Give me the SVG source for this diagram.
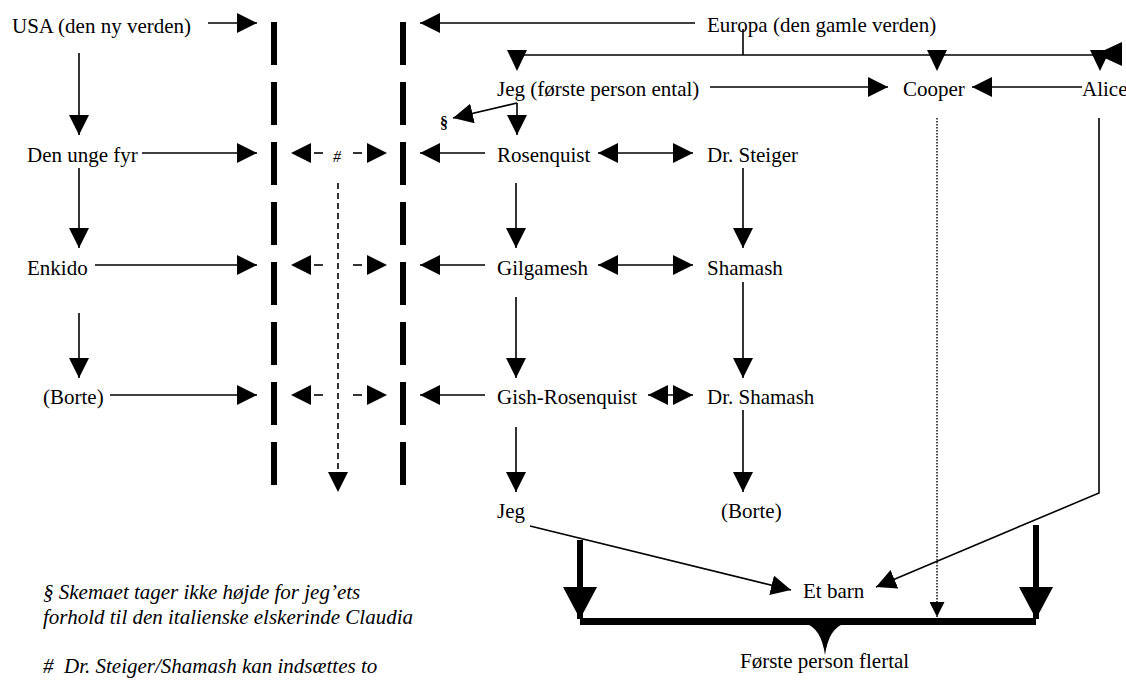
<svg xmlns="http://www.w3.org/2000/svg" width="1126" height="685" viewBox="0 0 1126 685">
<style>
  text { font-family: "Liberation Serif", "Times New Roman", serif; font-size: 21px; fill: #000; }
  .note { font-style: italic; }
  .ln { stroke: #000; stroke-width: 1.6; fill: none; }
  .arr { marker-end: url(#ah); }
  .dbl { marker-start: url(#ah); marker-end: url(#ah); }
  .wall { stroke: #000; stroke-width: 6; stroke-dasharray: 43 17; fill: none; }
  .dash { stroke: #000; stroke-width: 1.6; stroke-dasharray: 6 4; fill: none; }
  .stub { stroke: #000; stroke-width: 1.6; stroke-dasharray: 9 60; fill: none; marker-end: url(#ah); }
  .dot { stroke: #000; stroke-width: 1.4; stroke-dasharray: 1.5 1.5; fill: none; marker-end: url(#ahs); }
  .thick { stroke: #000; stroke-width: 6; fill: none; marker-end: url(#big); }
  .head { fill: #000; stroke: none; }
</style>
<defs>
  <marker id="ah" markerUnits="userSpaceOnUse" markerWidth="20" markerHeight="20" refX="20" refY="10" orient="auto-start-reverse">
    <path d="M0,0 L20,10 L0,20 Z" fill="#000"/>
  </marker>
  <marker id="ahs" markerUnits="userSpaceOnUse" markerWidth="15" markerHeight="15" refX="15" refY="7.5" orient="auto">
    <path d="M0,0 L15,7.5 L0,15 Z" fill="#000"/>
  </marker>
  <marker id="big" markerUnits="userSpaceOnUse" markerWidth="32" markerHeight="34" refX="32" refY="17" orient="auto">
    <path d="M0,0 L32,17 L0,34 Z" fill="#000"/>
  </marker>
</defs>

<g id="connectors">
  <line class="wall" x1="274" y1="22" x2="274" y2="485"/>
  <line class="wall" x1="403" y1="22" x2="403" y2="485"/>

  <line class="ln arr" x1="208" y1="23" x2="257" y2="23"/>
  <line class="ln arr" x1="695" y1="23" x2="420" y2="23"/>
  <line class="ln" x1="743" y1="29" x2="743" y2="55"/>
  <line class="ln" x1="517" y1="55" x2="1100" y2="55"/>
  <path class="head" d="M507,50 L527,50 L517,71 Z"/>
  <path class="head" d="M927,50 L947,50 L937,71 Z"/>
  <path class="head" d="M1090,50 L1110,50 L1100,71 Z"/>
  <path class="head" d="M1096,54 L1122,42 L1122,66 Z"/>

  <line class="ln arr" x1="710" y1="87" x2="888" y2="87"/>
  <line class="ln arr" x1="1082" y1="87" x2="972" y2="87"/>
  <line class="ln arr" x1="517" y1="103" x2="517" y2="135"/>
  <line class="ln arr" x1="517" y1="103" x2="453" y2="118"/>

  <line class="ln arr" x1="79" y1="53" x2="79" y2="135"/>
  <line class="ln arr" x1="79" y1="168" x2="79" y2="248"/>
  <line class="ln arr" x1="79" y1="313" x2="79" y2="378"/>

  <line class="ln arr" x1="142" y1="153" x2="257" y2="153"/>
  <line class="ln arr" x1="95" y1="265" x2="257" y2="265"/>
  <line class="ln arr" x1="110" y1="395" x2="257" y2="395"/>

  <line class="stub" x1="323" y1="153" x2="291" y2="153"/>
  <line class="stub" x1="353" y1="153" x2="387" y2="153"/>
  <line class="stub" x1="323" y1="265" x2="291" y2="265"/>
  <line class="stub" x1="353" y1="265" x2="387" y2="265"/>
  <line class="stub" x1="323" y1="395" x2="291" y2="395"/>
  <line class="stub" x1="353" y1="395" x2="387" y2="395"/>
  <line class="dash" x1="338" y1="183" x2="338" y2="474"/>
  <path class="head" d="M328,472 L348,472 L338,492 Z"/>

  <line class="ln arr" x1="485" y1="153" x2="420" y2="153"/>
  <line class="ln arr" x1="485" y1="265" x2="420" y2="265"/>
  <line class="ln arr" x1="485" y1="395" x2="420" y2="395"/>

  <line class="ln dbl" x1="598" y1="153" x2="693" y2="153"/>
  <line class="ln dbl" x1="598" y1="265" x2="693" y2="265"/>
  <line class="ln dbl" x1="648" y1="395" x2="693" y2="395"/>

  <line class="ln arr" x1="516" y1="183" x2="516" y2="248"/>
  <line class="ln arr" x1="516" y1="297" x2="516" y2="378"/>
  <line class="ln arr" x1="516" y1="427" x2="516" y2="492"/>
  <line class="ln arr" x1="743" y1="168" x2="743" y2="248"/>
  <line class="ln arr" x1="743" y1="282" x2="743" y2="378"/>
  <line class="ln arr" x1="743" y1="410" x2="743" y2="492"/>

  <line class="ln arr" x1="530" y1="526" x2="791" y2="590"/>
  <polyline class="ln arr" points="1099,118 1099,493 876,587"/>
  <line class="dot" x1="937" y1="118" x2="937" y2="617"/>
  <line class="thick" x1="580" y1="540" x2="580" y2="619"/>
  <line class="thick" x1="1036" y1="525" x2="1036" y2="619"/>
  <line x1="580" y1="621.5" x2="1036" y2="621.5" stroke="#000" stroke-width="7"/>
  <path class="head" d="M806,624 Q821,628 825,655 Q829,628 844,624 Z"/>
</g>

<g id="n-usa"><text x="12" y="33">USA (den ny verden)</text></g>
<g id="n-europa"><text x="707" y="32">Europa (den gamle verden)</text></g>
<g id="n-jeg-ental"><text x="497" y="96">Jeg (første person ental)</text></g>
<g id="n-cooper"><text x="903" y="96">Cooper</text></g>
<g id="n-alice"><text x="1082" y="96">Alice</text></g>
<g id="n-paragraf"><text x="440" y="128" style="font-size:16px;font-weight:bold">§</text></g>
<g id="n-hash"><text x="333" y="162" style="font-size:16px;font-style:italic">#</text></g>
<g id="n-den-unge-fyr"><text x="27" y="162">Den unge fyr</text></g>
<g id="n-enkido"><text x="27" y="275">Enkido</text></g>
<g id="n-borte-left"><text x="43" y="404">(Borte)</text></g>
<g id="n-rosenquist"><text x="497" y="162">Rosenquist</text></g>
<g id="n-steiger"><text x="707" y="162">Dr. Steiger</text></g>
<g id="n-gilgamesh"><text x="497" y="275">Gilgamesh</text></g>
<g id="n-shamash"><text x="707" y="275">Shamash</text></g>
<g id="n-gish-rosenquist"><text x="497" y="404">Gish-Rosenquist</text></g>
<g id="n-dr-shamash"><text x="707" y="404">Dr. Shamash</text></g>
<g id="n-jeg"><text x="497" y="518">Jeg</text></g>
<g id="n-borte-right"><text x="721" y="518">(Borte)</text></g>
<g id="n-et-barn"><text x="803" y="598">Et barn</text></g>
<g id="n-forste-flertal"><text x="740" y="668">Første person flertal</text></g>
<g id="notes">
  <text class="note" x="43" y="599">§ Skemaet tager ikke højde for jeg’ets</text>
  <text class="note" x="43" y="624">forhold til den italienske elskerinde Claudia</text>
  <text class="note" x="43" y="673">#&#160; Dr. Steiger/Shamash kan indsættes to</text>
</g>
</svg>
